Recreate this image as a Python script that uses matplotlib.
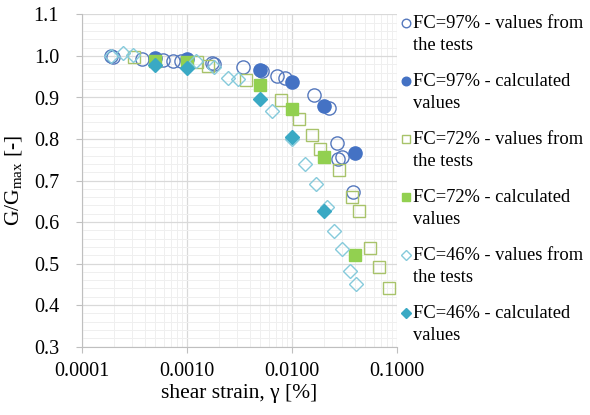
import numpy as np
import matplotlib
matplotlib.use('Agg')
import matplotlib.pyplot as plt
from matplotlib.lines import Line2D
from matplotlib.ticker import FixedLocator, MultipleLocator, LogLocator, FuncFormatter, NullFormatter

plt.rcParams['font.family'] = ['Liberation Serif', 'DejaVu Serif']

# FC=97% values from the tests
x97_test = [0.000189, 0.000197, 0.000372, 0.00059, 0.000736, 0.000877, 0.00172, 0.00180,
            0.00341, 0.00518, 0.0072, 0.00857, 0.0162, 0.0225, 0.0268, 0.0299, 0.0274, 0.0381]
y97_test = [1.000, 0.998, 0.993, 0.990, 0.988, 0.988, 0.984, 0.980,
            0.974, 0.964, 0.952, 0.947, 0.906, 0.875, 0.790, 0.757, 0.752, 0.673]
# FC=97% calculated
x97_calc = [0.0005, 0.001, 0.005, 0.01, 0.02, 0.04]
y97_calc = [0.995, 0.993, 0.966, 0.937, 0.880, 0.766]
# FC=72% values from the tests
x72_test = [0.000313, 0.00124, 0.00158, 0.00365, 0.00786, 0.0117, 0.0155, 0.0185,
            0.0280, 0.0373, 0.0434, 0.0553, 0.0680, 0.0839]
y72_test = [0.998, 0.986, 0.976, 0.942, 0.894, 0.848, 0.810, 0.776,
            0.725, 0.660, 0.627, 0.537, 0.492, 0.441]
# FC=72% calculated
x72_calc = [0.0005, 0.001, 0.005, 0.01, 0.02, 0.04]
y72_calc = [0.988, 0.986, 0.930, 0.872, 0.757, 0.520]
# FC=46% values from the tests
x46_test = [0.000189, 0.000245, 0.000306, 0.00122, 0.00181, 0.00245, 0.00306, 0.00645,
            0.0100, 0.0133, 0.0169, 0.0216, 0.0251, 0.0299, 0.0357, 0.0407]
y46_test = [1.000, 1.007, 1.002, 0.988, 0.973, 0.947, 0.945, 0.867,
            0.800, 0.740, 0.692, 0.636, 0.578, 0.535, 0.482, 0.451]
# FC=46% calculated
x46_calc = [0.0005, 0.001, 0.005, 0.01, 0.02]
y46_calc = [0.978, 0.971, 0.896, 0.805, 0.627]

labels = ['FC=97% - values from\nthe tests', 'FC=97% - calculated\nvalues',
          'FC=72% - values from\nthe tests', 'FC=72% - calculated\nvalues',
          'FC=46% - values from\nthe tests', 'FC=46% - calculated\nvalues']

x_ticks = [0.0001, 0.001, 0.01, 0.1]
y_ticks = [0.3, 0.4, 0.5, 0.6, 0.7, 0.8, 0.9, 1.0, 1.1]

W, H = 590, 415
fig = plt.figure(figsize=(5.9, 4.15), dpi=100)
ax = fig.add_axes([82/W, 1 - 346.5/H, 315/W, 332/H])

styles = [
    dict(marker='o', ms=9.5, mfc='none', mec='#5578BD', mew=1.0),
    dict(marker='o', ms=9.5, mfc='#4472C4', mec='#4472C4'),
    dict(marker='s', ms=8.0, mfc='none', mec='#A8C36A', mew=1.0),
    dict(marker='s', ms=8.0, mfc='#92D050', mec='#92D050'),
    dict(marker='D', ms=7.5, mfc='none', mec='#86CADB', mew=1.0),
    dict(marker='D', ms=7.5, mfc='#3AA9C4', mec='#3AA9C4'),
]
series = [(x97_test, y97_test), (x97_calc, y97_calc), (x72_test, y72_test),
          (x72_calc, y72_calc), (x46_test, y46_test), (x46_calc, y46_calc)]

for (xs, ys), st, lab in zip(series, styles, labels):
    ax.plot(xs, ys, ls='none', label=lab, **st)

ax.set_xscale('log')
ax.set_xlim(0.0001, 0.1)
ax.set_ylim(0.3, 1.1)
ax.xaxis.set_major_locator(FixedLocator(x_ticks))
ax.xaxis.set_minor_locator(LogLocator(base=10, subs=np.arange(2, 10)))
ax.xaxis.set_minor_formatter(NullFormatter())
ax.xaxis.set_major_formatter(FuncFormatter(lambda v, p: '%.4f' % v))
ax.yaxis.set_major_locator(FixedLocator(y_ticks))
ax.yaxis.set_minor_locator(MultipleLocator(0.02))
ax.yaxis.set_major_formatter(FuncFormatter(lambda v, p: '%.1f' % v))

ax.grid(which='major', color='#D9D9D9', lw=0.9)
ax.grid(which='minor', color='#EFEFEF', lw=0.7)
ax.set_axisbelow(True)
for s in ['top', 'right']:
    ax.spines[s].set_visible(False)
for s in ['left', 'bottom']:
    ax.spines[s].set_color('#BFBFBF')
ax.tick_params(which='major', length=4.5, color='#BFBFBF', labelsize=14.5)
ax.tick_params(axis='x', pad=7)
ax.tick_params(axis='y', pad=12)
ax.tick_params(which='minor', length=0)

ax.set_xlabel('shear strain, γ [%]', fontsize=15.5, labelpad=2)
ax.set_ylabel('G/G$_{\\mathregular{max}}$ [-]', fontsize=15.5, labelpad=6)

# legend drawn by hand so the marker sits on the first text line
for i, (st, lab) in enumerate(zip(styles, labels)):
    yc = 23 + 58 * i
    first, second = lab.split('\n')
    hst = dict(st)
    hst['ms'] = st['ms'] * 0.65
    fig.add_artist(Line2D([406/W], [1 - yc/H], transform=fig.transFigure, ls='none', **hst))
    fig.text(413/W, 1 - yc/H, first, fontsize=13.3, va='center', ha='left')
    fig.text(413/W, 1 - (yc + 22)/H, second, fontsize=13.3, va='center', ha='left')

fig.savefig('out.png', dpi=100)
